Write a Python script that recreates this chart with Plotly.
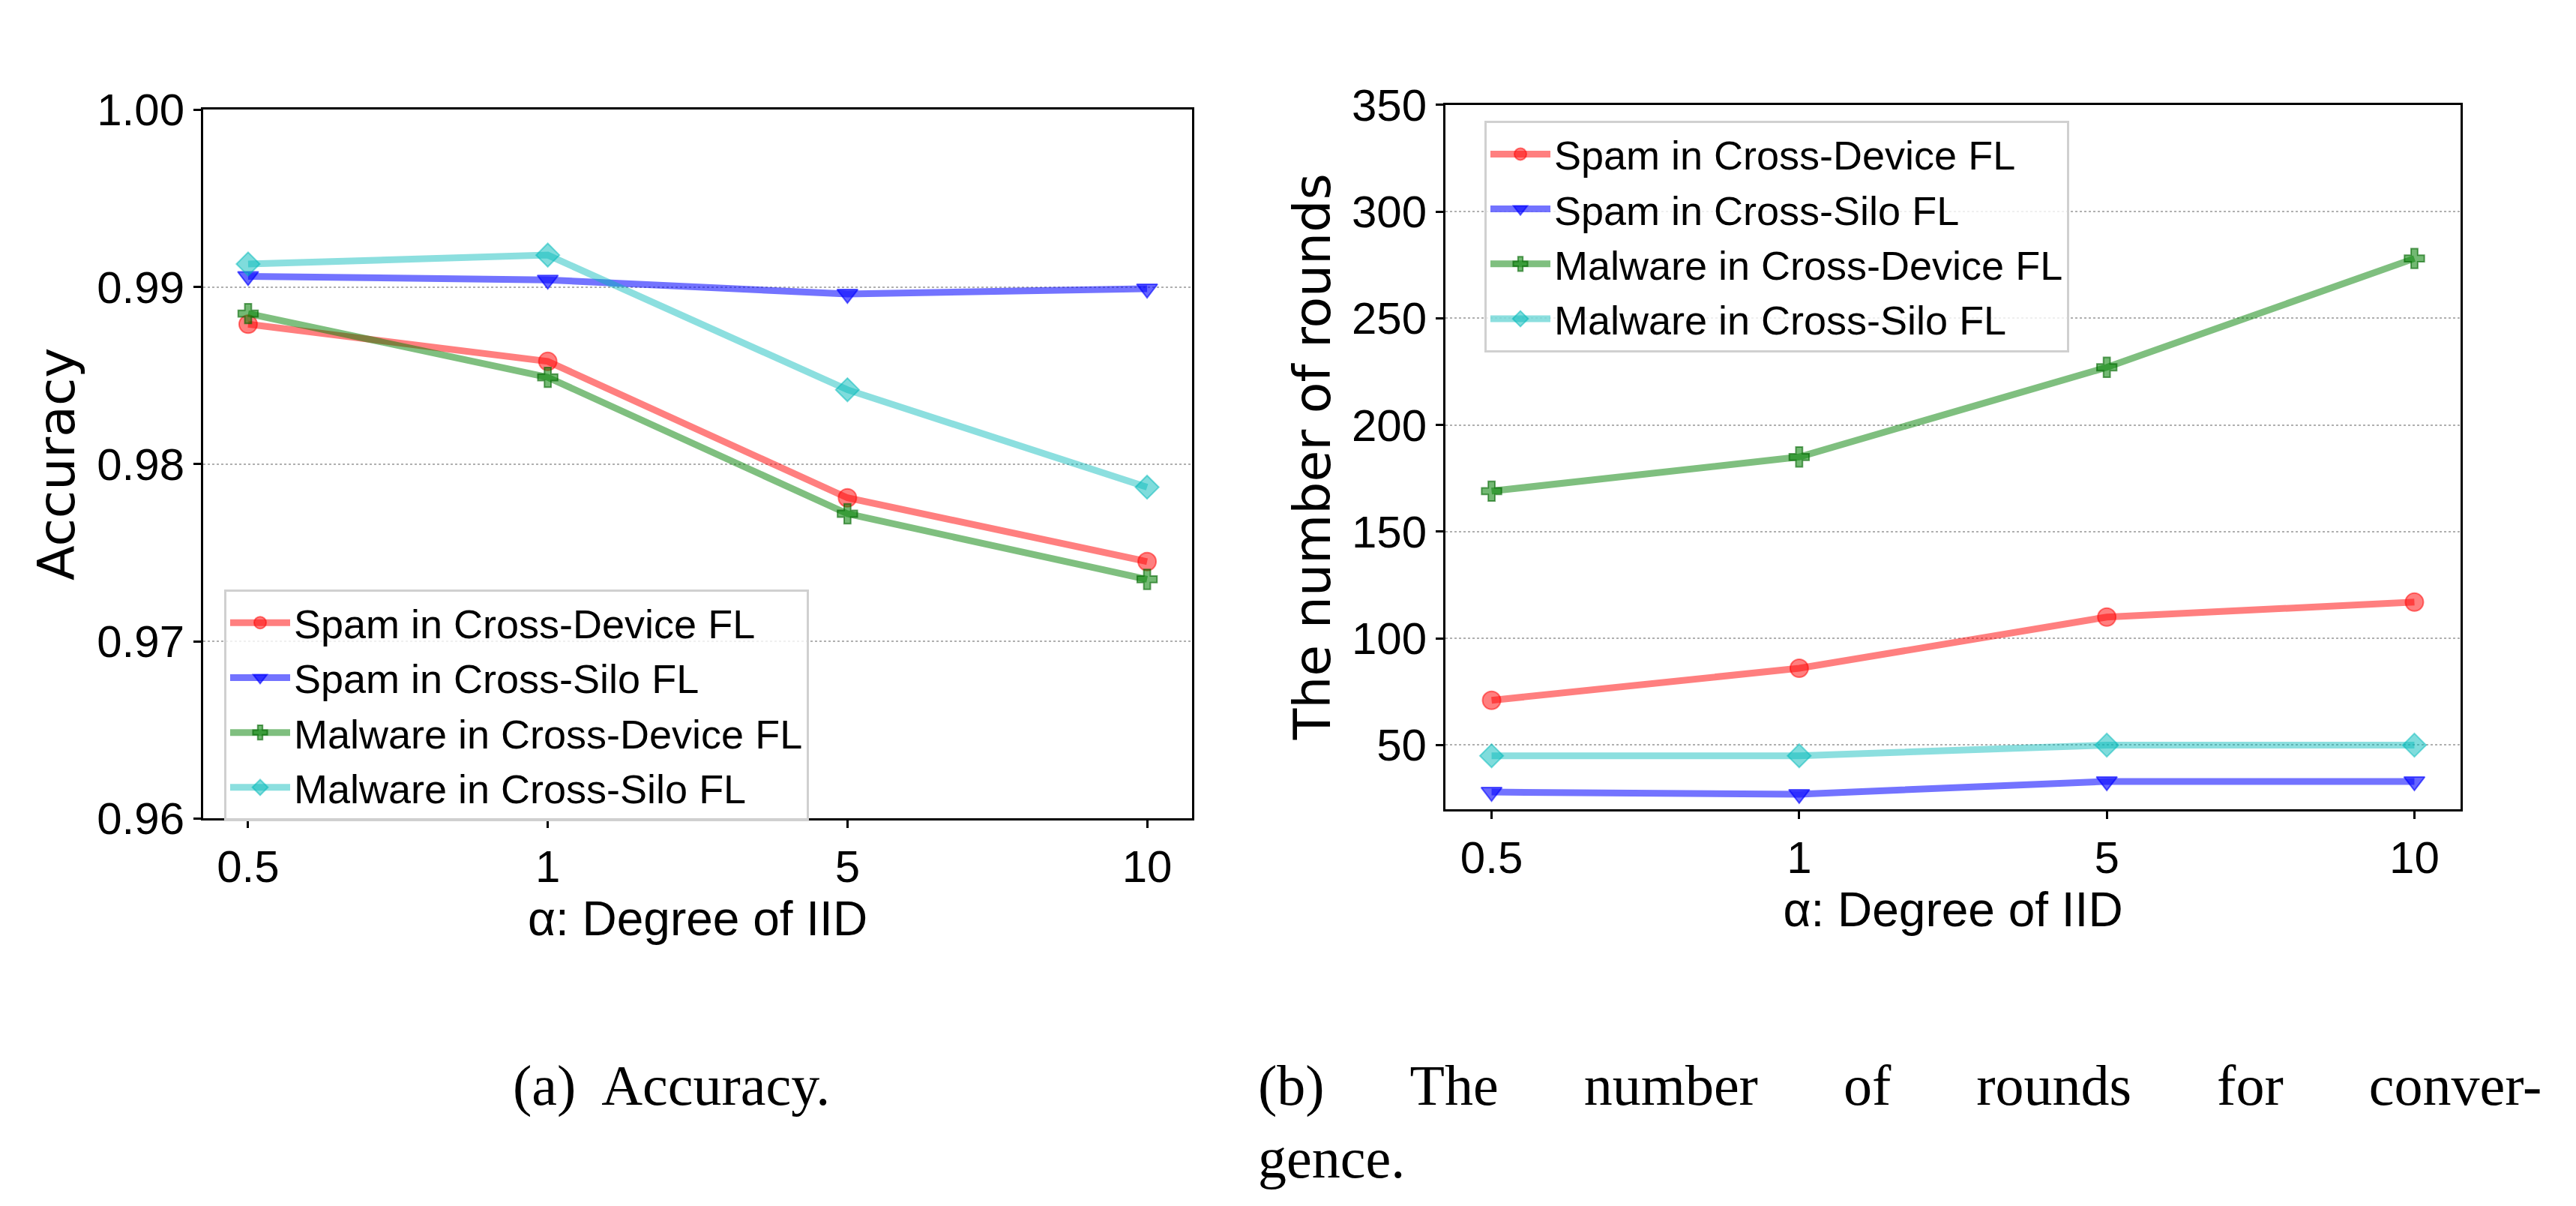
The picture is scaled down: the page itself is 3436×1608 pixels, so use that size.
import plotly.graph_objects as go

alphas = ["0.5", "1", "5", "10"]
series_names = ["Spam in Cross-Device FL", "Spam in Cross-Silo FL",
                "Malware in Cross-Device FL", "Malware in Cross-Silo FL"]
acc_spam_cd = [0.9879, 0.9858, 0.9781, 0.9745]
acc_spam_cs = [0.9906, 0.9904, 0.9896, 0.9899]
acc_mal_cd = [0.9885, 0.9849, 0.9772, 0.9735]
acc_mal_cs = [0.9913, 0.9918, 0.9842, 0.9787]
rnd_spam_cd = [71, 86, 110, 117]
rnd_spam_cs = [28, 27, 33, 33]
rnd_mal_cd = [169, 185, 227, 278]
rnd_mal_cs = [45, 45, 50, 50]

line_cols = ["rgba(255,0,0,0.5)", "rgba(0,0,255,0.55)", "rgba(0,128,0,0.5)", "rgba(0,185,185,0.45)"]
mk_cols = ["rgba(255,0,0,0.5)", "rgba(0,0,255,0.6)", "rgba(0,128,0,0.55)", "rgba(0,185,185,0.5)"]
symbols = ["circle", "triangle-down", "cross", "diamond"]

fig = go.Figure()
acc = [acc_spam_cd, acc_spam_cs, acc_mal_cd, acc_mal_cs]
rnd = [rnd_spam_cd, rnd_spam_cs, rnd_mal_cd, rnd_mal_cs]
for i in range(4):
    mk = dict(symbol=symbols[i], size=24, color=mk_cols[i],
              line=dict(color=mk_cols[i], width=2))
    if symbols[i] == "cross":
        mk = dict(symbol="cross", size=22, color=mk_cols[i],
                  line=dict(color="rgba(0,100,0,0.6)", width=2))
    fig.add_trace(go.Scatter(x=alphas, y=acc[i], name=series_names[i], mode="lines+markers",
                             line=dict(color=line_cols[i], width=9), marker=mk,
                             xaxis="x", yaxis="y", legend="legend"))
    fig.add_trace(go.Scatter(x=alphas, y=rnd[i], name=series_names[i], mode="lines+markers",
                             line=dict(color=line_cols[i], width=9), marker=mk,
                             xaxis="x2", yaxis="y2", legend="legend2"))

W, H = 3436, 1608
def px(x): return x / W
def py(y): return 1 - y / H

tickfont = dict(family="Liberation Sans, Arial", size=60, color="black")
axcommon = dict(showline=True, linecolor="black", linewidth=3, mirror=True,
                ticks="outside", ticklen=10, tickwidth=3, tickcolor="black",
                tickfont=tickfont)
xtitle = dict(text="α: Degree of IID", font=dict(family="Liberation Sans, Arial", size=64, color="black"), standoff=8)
fig.update_layout(
    width=W, height=H, paper_bgcolor="white", plot_bgcolor="white",
    margin=dict(l=0, r=0, t=0, b=0),
    xaxis=dict(domain=[px(263), px(1582)], anchor="y", type="category",
               range=[-0.15, 3.15], showgrid=False, **axcommon, title=xtitle),
    yaxis=dict(domain=[py(1096), py(110)], anchor="x", range=[0.96, 1.0],
               tickvals=[0.96, 0.97, 0.98, 0.99, 1.0], ticktext=["0.96", "0.97", "0.98", "0.99", "1.00"],
               showgrid=True, gridcolor="#b0b0b0", griddash="dot", gridwidth=1.5, **axcommon),
    xaxis2=dict(domain=[px(1920), px(3274)], anchor="y2", type="category",
                range=[-0.15, 3.15], showgrid=False, **axcommon, title=xtitle),
    yaxis2=dict(domain=[py(1083), py(103)], anchor="x2", range=[20, 350],
                tickvals=[50, 100, 150, 200, 250, 300, 350],
                showgrid=True, gridcolor="#b0b0b0", griddash="dot", gridwidth=1.5, **axcommon),
    legend=dict(x=px(291), y=py(777), xanchor="left", yanchor="top",
                bgcolor="rgba(255,255,255,0.8)", bordercolor="#d0d0d0", borderwidth=3,
                font=dict(family="Liberation Sans, Arial", size=54, color="black"),
                itemwidth=80, tracegroupgap=0),
    legend2=dict(x=px(1972), y=py(125), xanchor="left", yanchor="top",
                 bgcolor="rgba(255,255,255,0.8)", bordercolor="#d0d0d0", borderwidth=3,
                 font=dict(family="Liberation Sans, Arial", size=54, color="black"),
                 itemwidth=80, tracegroupgap=0),
    showlegend=True,
)

gap = " " + "\u00a0" * 5
cap_b = gap.join(["(b)", "The", "number", "of", "rounds", "for", "conver-"])
annos = [
    dict(text="Accuracy", x=px(68), y=py(603), textangle=-90, font=dict(family="DejaVu Sans", size=68, color="black")),
    dict(text="The number of rounds", x=px(1742), y=py(593), textangle=-90, font=dict(family="DejaVu Sans", size=68, color="black")),
    dict(text="(a)  Accuracy.", x=px(888), y=py(1468), font=dict(family="Liberation Serif, DejaVu Serif", size=76, color="black")),
    dict(text=cap_b, x=px(1668), y=py(1468), xanchor="left",
         font=dict(family="Liberation Serif, DejaVu Serif", size=76, color="black")),
    dict(text="gence.", x=px(1668), y=py(1568), xanchor="left",
         font=dict(family="Liberation Serif, DejaVu Serif", size=76, color="black")),
]
for a in annos:
    a.setdefault("xanchor", "center")
    fig.add_annotation(xref="paper", yref="paper", showarrow=False, yanchor="middle", **a)

fig.write_html("out.html")
